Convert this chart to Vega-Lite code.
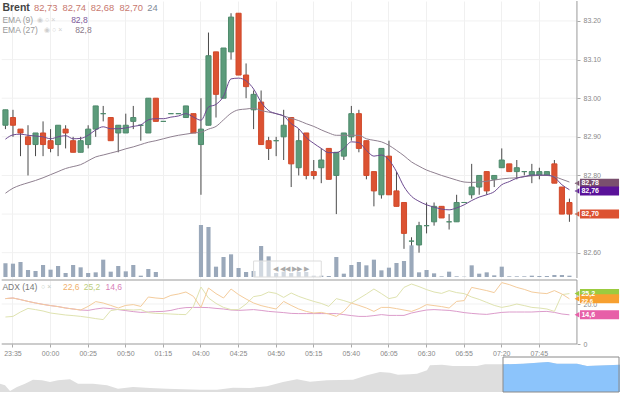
{"$schema":"https://vega.github.io/schema/vega-lite/v6.json","padding":0,"spacing":0,"background":"white","config":{"view":{"stroke":null},"text":{"font":"Liberation Sans"},"concat":{"spacing":0}},
"resolve":{"scale":{"color":"independent"}},
"datasets":{"blank":[{}],"bars":[
{"t":"23:30","o":82.93,"h":82.97,"l":82.92,"c":82.97,"v":246,"e9":82.894,"e27":82.754,"a":22.7,"g":13.5,"p":22.7},
{"t":"23:35","o":82.95,"h":82.97,"l":82.90,"c":82.93,"v":240,"e9":82.905,"e27":82.767,"a":23,"g":13.8,"p":23},
{"t":"23:40","o":82.92,"h":82.92,"l":82.85,"c":82.91,"v":270,"e9":82.907,"e27":82.775,"a":22.2,"g":16,"p":22.2},
{"t":"23:45","o":82.90,"h":82.93,"l":82.80,"c":82.88,"v":126,"e9":82.904,"e27":82.781,"a":21.3,"g":17.8,"p":21.3},
{"t":"23:50","o":82.88,"h":82.91,"l":82.85,"c":82.91,"v":108,"e9":82.902,"e27":82.787,"a":20.5,"g":17.2,"p":20.5},
{"t":"23:55","o":82.91,"h":82.94,"l":82.85,"c":82.88,"v":216,"e9":82.900,"e27":82.794,"a":19.8,"g":16.5,"p":19.8},
{"t":"00:00","o":82.89,"h":82.92,"l":82.86,"c":82.87,"v":132,"e9":82.895,"e27":82.802,"a":19.2,"g":15.5,"p":19.2},
{"t":"00:05","o":82.88,"h":82.93,"l":82.85,"c":82.93,"v":198,"e9":82.900,"e27":82.810,"a":18.7,"g":15,"p":18.7},
{"t":"00:10","o":82.92,"h":82.93,"l":82.87,"c":82.91,"v":72,"e9":82.903,"e27":82.818,"a":18,"g":14.5,"p":18},
{"t":"00:15","o":82.89,"h":82.90,"l":82.86,"c":82.86,"v":216,"e9":82.895,"e27":82.823,"a":17.5,"g":14.2,"p":17.5},
{"t":"00:20","o":82.86,"h":82.90,"l":82.86,"c":82.89,"v":174,"e9":82.896,"e27":82.828,"a":17,"g":13.8,"p":17},
{"t":"00:25","o":82.88,"h":82.93,"l":82.87,"c":82.92,"v":72,"e9":82.904,"e27":82.838,"a":18.8,"g":13.3,"p":16.8},
{"t":"00:30","o":82.92,"h":82.98,"l":82.90,"c":82.98,"v":84,"e9":82.918,"e27":82.848,"a":21.2,"g":12.7,"p":17.5},
{"t":"00:35","o":82.96,"h":82.98,"l":82.94,"c":82.96,"v":312,"e9":82.926,"e27":82.853,"a":20.5,"g":12.2,"p":18},
{"t":"00:40","o":82.95,"h":82.95,"l":82.89,"c":82.89,"v":96,"e9":82.921,"e27":82.858,"a":19.3,"g":16.7,"p":17.7},
{"t":"00:45","o":82.91,"h":82.93,"l":82.86,"c":82.93,"v":198,"e9":82.921,"e27":82.863,"a":18,"g":17.3,"p":17.2},
{"t":"00:50","o":82.91,"h":82.96,"l":82.91,"c":82.93,"v":102,"e9":82.923,"e27":82.869,"a":19.3,"g":17.2,"p":16.7},
{"t":"00:55","o":82.94,"h":82.98,"l":82.92,"c":82.95,"v":216,"e9":82.927,"e27":82.874,"a":19.7,"g":17,"p":16.2},
{"t":"01:00","o":82.93,"h":82.93,"l":82.89,"c":82.93,"v":24,"e9":82.931,"e27":82.880,"a":18.8,"g":17.2,"p":15.8},
{"t":"01:05","o":82.91,"h":83.00,"l":82.91,"c":83.00,"v":144,"e9":82.944,"e27":82.886,"a":23.5,"g":15.7,"p":16},
{"t":"01:10","o":83.00,"h":83.00,"l":82.94,"c":82.94,"v":90,"e9":82.947,"e27":82.890,"a":23,"g":15.3,"p":16.2},
{"t":"01:15","o":82.94,"h":82.94,"l":82.94,"c":82.94,"v":0,"e9":82.947,"e27":82.895,"a":22.7,"g":15.2,"p":16.3},
{"t":"01:20","o":82.96,"h":82.96,"l":82.96,"c":82.96,"v":0,"e9":82.951,"e27":82.900,"a":24.3,"g":15,"p":16.8},
{"t":"01:25","o":82.96,"h":82.96,"l":82.96,"c":82.96,"v":0,"e9":82.954,"e27":82.904,"a":25,"g":14.8,"p":17.7},
{"t":"01:30","o":82.95,"h":82.98,"l":82.95,"c":82.98,"v":0,"e9":82.960,"e27":82.907,"a":26,"g":14.7,"p":18.2},
{"t":"01:35","o":82.96,"h":82.96,"l":82.91,"c":82.91,"v":0,"e9":82.951,"e27":82.910,"a":23.8,"g":18.8,"p":18.3},
{"t":"04:00","o":82.88,"h":83.00,"l":82.75,"c":82.92,"v":936,"e9":82.943,"e27":82.912,"a":18.3,"g":28.5,"p":18.3},
{"t":"04:05","o":82.93,"h":83.17,"l":82.93,"c":83.11,"v":900,"e9":82.977,"e27":82.920,"a":28,"g":23,"p":18.2},
{"t":"04:10","o":83.12,"h":83.12,"l":82.95,"c":83.01,"v":186,"e9":82.984,"e27":82.927,"a":25.2,"g":20.3,"p":17.8},
{"t":"04:15","o":83.00,"h":83.13,"l":83.00,"c":83.13,"v":360,"e9":83.005,"e27":82.944,"a":23,"g":18.3,"p":17.5},
{"t":"04:20","o":83.12,"h":83.22,"l":83.10,"c":83.21,"v":408,"e9":83.050,"e27":82.961,"a":27.5,"g":17.2,"p":17},
{"t":"04:25","o":83.22,"h":83.22,"l":83.06,"c":83.06,"v":162,"e9":83.052,"e27":82.970,"a":24.7,"g":17.2,"p":16.8},
{"t":"04:30","o":83.06,"h":83.09,"l":83.00,"c":83.03,"v":90,"e9":83.045,"e27":82.972,"a":22.5,"g":20,"p":17},
{"t":"04:35","o":82.97,"h":83.02,"l":82.92,"c":83.01,"v":108,"e9":83.024,"e27":82.974,"a":20.5,"g":23.7,"p":17.2},
{"t":"04:40","o":82.99,"h":83.02,"l":82.88,"c":82.88,"v":558,"e9":82.990,"e27":82.968,"a":19.2,"g":24.3,"p":16.8},
{"t":"04:45","o":82.89,"h":82.90,"l":82.84,"c":82.87,"v":372,"e9":82.968,"e27":82.964,"a":18.3,"g":26,"p":16.3},
{"t":"04:50","o":82.89,"h":82.90,"l":82.85,"c":82.89,"v":72,"e9":82.960,"e27":82.960,"a":17.5,"g":25.3,"p":16},
{"t":"04:55","o":82.90,"h":82.97,"l":82.84,"c":82.93,"v":96,"e9":82.954,"e27":82.954,"a":21.3,"g":23.3,"p":15.7},
{"t":"05:00","o":82.95,"h":82.95,"l":82.77,"c":82.83,"v":72,"e9":82.934,"e27":82.948,"a":19.3,"g":25.5,"p":15.3},
{"t":"05:05","o":82.82,"h":82.92,"l":82.80,"c":82.89,"v":90,"e9":82.921,"e27":82.942,"a":17.5,"g":23.8,"p":15.2},
{"t":"05:10","o":82.91,"h":82.91,"l":82.79,"c":82.80,"v":90,"e9":82.898,"e27":82.934,"a":16.3,"g":22.5,"p":15.2},
{"t":"05:15","o":82.81,"h":82.84,"l":82.79,"c":82.80,"v":24,"e9":82.883,"e27":82.927,"a":15.5,"g":21.3,"p":15.2},
{"t":"05:20","o":82.82,"h":82.87,"l":82.78,"c":82.84,"v":24,"e9":82.870,"e27":82.918,"a":15.8,"g":20.3,"p":15.2},
{"t":"05:25","o":82.87,"h":82.87,"l":82.79,"c":82.79,"v":18,"e9":82.859,"e27":82.910,"a":15,"g":18.8,"p":15.2},
{"t":"05:30","o":82.80,"h":82.86,"l":82.70,"c":82.86,"v":360,"e9":82.859,"e27":82.904,"a":13.8,"g":22.7,"p":15.2},
{"t":"05:35","o":82.85,"h":82.91,"l":82.84,"c":82.91,"v":60,"e9":82.870,"e27":82.904,"a":16.3,"g":21.7,"p":14.7},
{"t":"05:40","o":82.90,"h":82.98,"l":82.89,"c":82.96,"v":216,"e9":82.887,"e27":82.904,"a":20.5,"g":20.5,"p":14.2},
{"t":"05:45","o":82.96,"h":82.97,"l":82.86,"c":82.87,"v":270,"e9":82.885,"e27":82.904,"a":19.3,"g":22.7,"p":13.8},
{"t":"05:50","o":82.89,"h":82.89,"l":82.79,"c":82.80,"v":210,"e9":82.865,"e27":82.895,"a":18,"g":25,"p":13.8},
{"t":"05:55","o":82.81,"h":82.81,"l":82.72,"c":82.76,"v":312,"e9":82.850,"e27":82.891,"a":16.3,"g":27.5,"p":14.2},
{"t":"06:00","o":82.75,"h":82.87,"l":82.74,"c":82.87,"v":120,"e9":82.853,"e27":82.887,"a":18.3,"g":25.2,"p":14.7},
{"t":"06:05","o":82.85,"h":82.89,"l":82.75,"c":82.75,"v":168,"e9":82.840,"e27":82.878,"a":18.3,"g":22.7,"p":14.3},
{"t":"06:10","o":82.76,"h":82.81,"l":82.72,"c":82.72,"v":252,"e9":82.810,"e27":82.865,"a":17.7,"g":23.5,"p":14.3},
{"t":"06:15","o":82.73,"h":82.73,"l":82.61,"c":82.65,"v":288,"e9":82.771,"e27":82.851,"a":17,"g":28.3,"p":14.3},
{"t":"06:20","o":82.63,"h":82.64,"l":82.57,"c":82.63,"v":570,"e9":82.746,"e27":82.835,"a":16.3,"g":30,"p":15.5},
{"t":"06:25","o":82.62,"h":82.68,"l":82.60,"c":82.67,"v":84,"e9":82.733,"e27":82.824,"a":17.7,"g":28.7,"p":16.3},
{"t":"06:30","o":82.67,"h":82.73,"l":82.65,"c":82.67,"v":126,"e9":82.724,"e27":82.814,"a":19.7,"g":27.2,"p":17},
{"t":"06:35","o":82.68,"h":82.73,"l":82.67,"c":82.72,"v":66,"e9":82.718,"e27":82.807,"a":19.2,"g":26,"p":17.2},
{"t":"06:40","o":82.72,"h":82.72,"l":82.69,"c":82.69,"v":12,"e9":82.713,"e27":82.800,"a":18.7,"g":25.3,"p":17},
{"t":"06:45","o":82.68,"h":82.70,"l":82.66,"c":82.68,"v":96,"e9":82.711,"e27":82.794,"a":18,"g":26.7,"p":16.8},
{"t":"06:50","o":82.68,"h":82.75,"l":82.68,"c":82.73,"v":12,"e9":82.716,"e27":82.788,"a":21.3,"g":25.7,"p":16.3},
{"t":"06:55","o":82.73,"h":82.73,"l":82.73,"c":82.73,"v":6,"e9":82.724,"e27":82.783,"a":21.7,"g":25.2,"p":15.7},
{"t":"07:00","o":82.75,"h":82.83,"l":82.74,"c":82.77,"v":210,"e9":82.735,"e27":82.782,"a":28.3,"g":23.5,"p":15.3},
{"t":"07:05","o":82.77,"h":82.80,"l":82.75,"c":82.80,"v":60,"e9":82.744,"e27":82.783,"a":27.5,"g":22.3,"p":15},
{"t":"07:10","o":82.81,"h":82.81,"l":82.75,"c":82.76,"v":84,"e9":82.750,"e27":82.785,"a":26.7,"g":20.8,"p":14.8},
{"t":"07:15","o":82.79,"h":82.80,"l":82.77,"c":82.80,"v":30,"e9":82.758,"e27":82.788,"a":25.7,"g":19.3,"p":15.3},
{"t":"07:20","o":82.82,"h":82.87,"l":82.82,"c":82.84,"v":186,"e9":82.776,"e27":82.791,"a":30.7,"g":18.3,"p":15.8},
{"t":"07:25","o":82.83,"h":82.83,"l":82.81,"c":82.81,"v":12,"e9":82.784,"e27":82.793,"a":29.7,"g":19,"p":16},
{"t":"07:30","o":82.81,"h":82.84,"l":82.79,"c":82.82,"v":12,"e9":82.793,"e27":82.794,"a":28.3,"g":20,"p":16},
{"t":"07:35","o":82.81,"h":82.81,"l":82.80,"c":82.81,"v":12,"e9":82.797,"e27":82.797,"a":27.3,"g":19.2,"p":16},
{"t":"07:40","o":82.80,"h":82.83,"l":82.78,"c":82.81,"v":24,"e9":82.801,"e27":82.799,"a":26,"g":18.3,"p":16},
{"t":"07:45","o":82.80,"h":82.82,"l":82.79,"c":82.81,"v":18,"e9":82.801,"e27":82.800,"a":25.5,"g":18,"p":16.2},
{"t":"07:50","o":82.80,"h":82.81,"l":82.80,"c":82.81,"v":18,"e9":82.801,"e27":82.800,"a":25.2,"g":17.5,"p":16.3},
{"t":"07:55","o":82.83,"h":82.84,"l":82.78,"c":82.78,"v":36,"e9":82.795,"e27":82.797,"a":26.7,"g":16.3,"p":15.8},
{"t":"08:00","o":82.77,"h":82.77,"l":82.70,"c":82.70,"v":36,"e9":82.776,"e27":82.790,"a":25,"g":24.7,"p":15},
{"t":"08:05","o":82.73,"h":82.74,"l":82.68,"c":82.70,"v":24,"e9":82.763,"e27":82.783,"a":22.6,"g":25.2,"p":14.6}
]},
"vconcat":[
{"width":620,"height":277,"data":{"name":"blank"},"resolve":{"scale":{"y":"independent"}},"layer":[
{"layer":[
{"data":{"values":[{"y":82.6},{"y":82.7},{"y":82.8},{"y":82.9},{"y":83.0},{"y":83.1},{"y":83.2}]},
"mark":{"type":"rule","color":"#f1f1f1","strokeWidth":1},
"encoding":{
"x":{"datum":"23:30","type":"ordinal","bandPosition":0,"scale":{"domain":["23:30","23:35","23:40","23:45","23:50","23:55","00:00","00:05","00:10","00:15","00:20","00:25","00:30","00:35","00:40","00:45","00:50","00:55","01:00","01:05","01:10","01:15","01:20","01:25","01:30","01:35","04:00","04:05","04:10","04:15","04:20","04:25","04:30","04:35","04:40","04:45","04:50","04:55","05:00","05:05","05:10","05:15","05:20","05:25","05:30","05:35","05:40","05:45","05:50","05:55","06:00","06:05","06:10","06:15","06:20","06:25","06:30","06:35","06:40","06:45","06:50","06:55","07:00","07:05","07:10","07:15","07:20","07:25","07:30","07:35","07:40","07:45","07:50","07:55","08:00","08:05","08:10","08:15","08:20","08:25","08:30","08:35"],"paddingInner":0,"paddingOuter":0.225},
"axis":{"title":null,"values":["23:35","00:00","00:25","00:50","01:15","04:00","04:25","04:50","05:15","05:40","06:05","06:30","06:55","07:20","07:45"],"grid":true,"gridColor":"#f0f0f0","labels":false,"ticks":false,"domain":false}},
"x2":{"datum":"08:10"},
"y":{"field":"y","type":"quantitative","scale":{"domain":[82.5345,83.2517],"nice":false,"zero":false},
"axis":{"title":null,"orient":"right","offset":-43,"values":[82.6,82.8,82.9,83.0,83.1,83.2],"format":".2f","grid":false,"domain":false,"tickSize":3,"tickColor":"#aaa","labelPadding":3,"labelColor":"#888","labelFont":"Liberation Sans","labelFontSize":7}}}},
{"data":{"name":"bars"},"mark":{"type":"rule","color":"#4a4a4a","strokeWidth":1},
"encoding":{"x":{"field":"t","type":"ordinal"},"y":{"field":"l","type":"quantitative"},"y2":{"field":"h"}}},
{"data":{"name":"bars"},"mark":{"type":"bar","width":{"band":0.68},"strokeWidth":1},
"encoding":{"x":{"field":"t","type":"ordinal"},"y":{"field":"o","type":"quantitative"},"y2":{"field":"c"},
"color":{"condition":{"test":"datum.c>=datum.o","value":"#5c9c7b"},"value":"#dc5232"},
"stroke":{"condition":{"test":"datum.c>=datum.o","value":"#4f8a6c"},"value":"#d04a2b"}}},
{"data":{"name":"bars"},"mark":{"type":"line","color":"#8f8090","strokeWidth":1,"interpolate":"monotone"},
"encoding":{"x":{"field":"t","type":"ordinal"},"y":{"field":"e27","type":"quantitative"}}},
{"data":{"name":"bars"},"mark":{"type":"line","color":"#6d4a90","strokeWidth":1,"interpolate":"monotone"},
"encoding":{"x":{"field":"t","type":"ordinal"},"y":{"field":"e9","type":"quantitative"}}},
{"data":{"values":[{"s":"EMA 27","y":82.78},{"s":"EMA 9","y":82.76},{"s":"Brent","y":82.70}]},
"mark":{"type":"rule","strokeWidth":9,"strokeCap":"square"},
"encoding":{"x":{"datum":"08:15","type":"ordinal"},"x2":{"datum":"08:35"},"y":{"field":"y","type":"quantitative"},
"color":{"field":"s","type":"nominal","legend":null,"scale":{"domain":["EMA 27","EMA 9","Brent"],"range":["#7a4f6e","#5a1299","#dc5232"]}}}},
{"data":{"values":[{"s":"EMA 27","y":82.78},{"s":"EMA 9","y":82.76},{"s":"Brent","y":82.70}]},
"mark":{"type":"point","shape":"triangle-left","filled":true,"size":30,"opacity":1},
"encoding":{"x":{"datum":"08:10","type":"ordinal"},"y":{"field":"y","type":"quantitative"},"color":{"field":"s","type":"nominal","legend":null}}},
{"data":{"values":[{"y":82.78,"label":"82,78"},{"y":82.76,"label":"82,76"},{"y":82.70,"label":"82,70"}]},
"mark":{"type":"text","color":"white","fontSize":7,"fontWeight":"bold","align":"left","dx":-3},
"encoding":{"x":{"datum":"08:15","type":"ordinal"},"y":{"field":"y","type":"quantitative"},"text":{"field":"label"}}},
{"mark":{"type":"text","text":"Brent","align":"left","dx":-3,"fontSize":10.5,"fontWeight":"bold","color":"#444"},"encoding":{"x":{"datum":"23:30","type":"ordinal"},"y":{"datum":83.2323}}},
{"mark":{"type":"text","text":"82,73","align":"left","dx":-1.6,"fontSize":9.4,"color":"#c8786e"},"encoding":{"x":{"datum":"23:50","type":"ordinal"},"y":{"datum":83.2323}}},
{"mark":{"type":"text","text":"82,74","align":"left","dx":-3,"fontSize":9.4,"color":"#c8786e"},"encoding":{"x":{"datum":"00:10","type":"ordinal"},"y":{"datum":83.2323}}},
{"mark":{"type":"text","text":"82,68","align":"left","dx":2.5,"fontSize":9.4,"color":"#c8786e"},"encoding":{"x":{"datum":"00:25","type":"ordinal"},"y":{"datum":83.2323}}},
{"mark":{"type":"text","text":"82,70","align":"left","dx":1.3,"fontSize":9.4,"color":"#c8786e"},"encoding":{"x":{"datum":"00:45","type":"ordinal"},"y":{"datum":83.2323}}},
{"mark":{"type":"text","text":"24","align":"left","dx":-1,"fontSize":9.4,"color":"#7f8c99"},"encoding":{"x":{"datum":"01:05","type":"ordinal"},"y":{"datum":83.2323}}},
{"mark":{"type":"text","text":"EMA (9)","align":"left","dx":-3,"fontSize":8.5,"color":"#999"},"encoding":{"x":{"datum":"23:30","type":"ordinal"},"y":{"datum":83.2038}}},
{"mark":{"type":"text","text":"◉ ○ ×","align":"left","dx":1.5,"fontSize":7,"color":"#cfcfcf"},"encoding":{"x":{"datum":"23:50","type":"ordinal"},"y":{"datum":83.2038}}},
{"mark":{"type":"text","text":"82,8","align":"left","dx":-2,"fontSize":8.5,"color":"#7d5a9b"},"encoding":{"x":{"datum":"00:15","type":"ordinal"},"y":{"datum":83.2038}}},
{"mark":{"type":"text","text":"EMA (27)","align":"left","dx":-3,"fontSize":8.5,"color":"#999"},"encoding":{"x":{"datum":"23:30","type":"ordinal"},"y":{"datum":83.1767}}},
{"mark":{"type":"text","text":"◉ ○ ×","align":"left","dx":1,"fontSize":7,"color":"#cfcfcf"},"encoding":{"x":{"datum":"23:55","type":"ordinal"},"y":{"datum":83.1767}}},
{"mark":{"type":"text","text":"82,8","align":"left","dx":2,"fontSize":8.5,"color":"#8a7a8a"},"encoding":{"x":{"datum":"00:15","type":"ordinal"},"y":{"datum":83.1767}}},
{"mark":{"type":"rule","color":"#999","strokeWidth":1},"encoding":{"x":{"datum":"08:10","type":"ordinal"}}}
]},
{"layer":[
{"data":{"name":"bars"},"mark":{"type":"bar","width":{"band":0.55},"color":"#9aa8ba"},
"encoding":{"x":{"field":"t","type":"ordinal"},"y":{"field":"v","type":"quantitative","axis":null,"scale":{"domain":[-18,4968],"nice":false,"zero":false}}}},
{"mark":{"type":"rect","fill":"white","fillOpacity":0.55,"stroke":"#ddd"},
"encoding":{"x":{"datum":"04:35","type":"ordinal"},"x2":{"datum":"05:20"},"y":{"datum":0,"axis":null},"y2":{"datum":288}}},
{"mark":{"type":"text","text":"◀    ◀◀    ▶▶    ▶","fontSize":7,"color":"#aaa"},
"encoding":{"x":{"datum":"05:00","type":"ordinal"},"y":{"datum":144,"axis":null}}}
]}
]},
{"width":620,"height":64,"data":{"name":"blank"},"layer":[
{"data":{"values":[{"y":20}]},"mark":{"type":"rule","color":"#f1f1f1"},
"encoding":{
"x":{"datum":"23:30","type":"ordinal","bandPosition":0,"scale":{"domain":["23:30","23:35","23:40","23:45","23:50","23:55","00:00","00:05","00:10","00:15","00:20","00:25","00:30","00:35","00:40","00:45","00:50","00:55","01:00","01:05","01:10","01:15","01:20","01:25","01:30","01:35","04:00","04:05","04:10","04:15","04:20","04:25","04:30","04:35","04:40","04:45","04:50","04:55","05:00","05:05","05:10","05:15","05:20","05:25","05:30","05:35","05:40","05:45","05:50","05:55","06:00","06:05","06:10","06:15","06:20","06:25","06:30","06:35","06:40","06:45","06:50","06:55","07:00","07:05","07:10","07:15","07:20","07:25","07:30","07:35","07:40","07:45","07:50","07:55","08:00","08:05","08:10","08:15","08:20","08:25","08:30","08:35"],"paddingInner":0,"paddingOuter":0.225},
"axis":{"title":null,"values":["23:35","00:00","00:25","00:50","01:15","04:00","04:25","04:50","05:15","05:40","06:05","06:30","06:55","07:20","07:45"],"grid":true,"gridColor":"#f0f0f0","domain":false,"tickSize":3,"tickColor":"#aaa","labelAngle":0,"labelPadding":2,"labelColor":"#888","labelFont":"Liberation Sans","labelFontSize":7}},
"x2":{"datum":"08:10"},
"y":{"field":"y","type":"quantitative","scale":{"domain":[0,32],"nice":false},
"axis":{"title":null,"orient":"right","offset":-43,"values":[0,20],"labelExpr":"datum.value==0?'0':'20.0'","grid":false,"domain":false,"tickSize":3,"tickColor":"#aaa","labelPadding":3,"labelColor":"#888","labelFont":"Liberation Sans","labelFontSize":7}}}},
{"data":{"name":"bars"},"mark":{"type":"line","color":"#dc9ccb","strokeWidth":1},
"encoding":{"x":{"field":"t","type":"ordinal"},"y":{"field":"p","type":"quantitative"}}},
{"data":{"name":"bars"},"mark":{"type":"line","color":"#dfe3b0","strokeWidth":1},
"encoding":{"x":{"field":"t","type":"ordinal"},"y":{"field":"g","type":"quantitative"}}},
{"data":{"name":"bars"},"mark":{"type":"line","color":"#f4cc9c","strokeWidth":1},
"encoding":{"x":{"field":"t","type":"ordinal"},"y":{"field":"a","type":"quantitative"}}},
{"mark":{"type":"rule","color":"#999","strokeWidth":1},"encoding":{"x":{"datum":"23:30","type":"ordinal","bandPosition":0},"x2":{"datum":"08:10"},"y":{"datum":0}}},
{"mark":{"type":"rule","color":"#999","strokeWidth":1},"encoding":{"x":{"datum":"23:30","type":"ordinal","bandPosition":0},"x2":{"datum":"08:10"},"y":{"datum":32}}},
{"mark":{"type":"rule","color":"#999","strokeWidth":1},"encoding":{"x":{"datum":"08:10","type":"ordinal"}}},
{"data":{"values":[{"s":"+DI","y":25.2},{"s":"ADX","y":22.6},{"s":"-DI","y":14.6}]},
"mark":{"type":"rule","strokeWidth":9,"strokeCap":"square"},
"encoding":{"x":{"datum":"08:15","type":"ordinal"},"x2":{"datum":"08:35"},"y":{"field":"y","type":"quantitative"},
"color":{"field":"s","type":"nominal","legend":null,"scale":{"domain":["+DI","ADX","-DI"],"range":["#9bcb3f","#f7a030","#e75fa8"]}}}},
{"data":{"values":[{"s":"+DI","y":25.2},{"s":"ADX","y":22.6},{"s":"-DI","y":14.6}]},
"mark":{"type":"point","shape":"triangle-left","filled":true,"size":30,"opacity":1},
"encoding":{"x":{"datum":"08:10","type":"ordinal"},"y":{"field":"y","type":"quantitative"},"color":{"field":"s","type":"nominal","legend":null}}},
{"data":{"values":[{"y":25.2,"label":"25,2"},{"y":14.6,"label":"14,6"}]},
"mark":{"type":"text","color":"white","fontSize":7,"fontWeight":"bold","align":"left","dx":-3},
"encoding":{"x":{"datum":"08:15","type":"ordinal"},"y":{"field":"y","type":"quantitative"},"text":{"field":"label"}}},
{"data":{"values":[{"y":22.6,"label":"22,6"}]},
"mark":{"type":"text","color":"white","fontSize":6,"fontWeight":"bold","align":"left","dx":-3,"dy":2},
"encoding":{"x":{"datum":"08:15","type":"ordinal"},"y":{"field":"y","type":"quantitative"},"text":{"field":"label"}}},
{"mark":{"type":"text","text":"ADX (14)","align":"left","dx":-3,"fontSize":8.5,"color":"#777"},"encoding":{"x":{"datum":"23:30","type":"ordinal"},"y":{"datum":28.5}}},
{"mark":{"type":"text","text":"○ ×","align":"left","dx":-2,"fontSize":7,"color":"#c4ccc4"},"encoding":{"x":{"datum":"23:55","type":"ordinal"},"y":{"datum":28.5}}},
{"mark":{"type":"text","text":"22,6","align":"left","dx":-2.7,"fontSize":8.5,"color":"#f0b16d"},"encoding":{"x":{"datum":"00:10","type":"ordinal"},"y":{"datum":28.5}}},
{"mark":{"type":"text","text":"25,2","align":"left","dx":-4.5,"fontSize":8.5,"color":"#bccd7c"},"encoding":{"x":{"datum":"00:25","type":"ordinal"},"y":{"datum":28.5}}},
{"mark":{"type":"text","text":"14,6","align":"left","dx":2.3,"fontSize":8.5,"color":"#d880b8"},"encoding":{"x":{"datum":"00:35","type":"ordinal"},"y":{"datum":28.5}}}
]},
{"width":620,"height":35,"data":{"values":[{"n":0,"m":25},{"n":5,"m":20},{"n":10,"m":3},{"n":17,"m":15},{"n":25,"m":25},{"n":33,"m":37},{"n":42,"m":35},{"n":50,"m":30},{"n":58,"m":35},{"n":70,"m":38},{"n":78,"m":25},{"n":93,"m":25},{"n":107,"m":20},{"n":118,"m":10},{"n":133,"m":15},{"n":150,"m":12},{"n":167,"m":10},{"n":183,"m":8},{"n":200,"m":7},{"n":217,"m":7},{"n":233,"m":13},{"n":250,"m":12},{"n":267,"m":17},{"n":283,"m":30},{"n":297,"m":38},{"n":310,"m":31},{"n":327,"m":35},{"n":353,"m":37},{"n":367,"m":50},{"n":380,"m":60},{"n":390,"m":58},{"n":398,"m":52},{"n":410,"m":53},{"n":417,"m":55},{"n":427,"m":65},{"n":430,"m":80},{"n":442,"m":82},{"n":453,"m":78},{"n":477,"m":78},{"n":485,"m":83},{"n":503,"m":83},{"n":523,"m":85},{"n":548,"m":90},{"n":557,"m":85},{"n":577,"m":85},{"n":587,"m":78},{"n":620,"m":82}]},
"layer":[
{"mark":{"type":"area","color":"#dedede"},"encoding":{"x":{"field":"n","type":"quantitative","axis":null,"scale":{"domain":[0,620],"nice":false}},"y":{"field":"m","type":"quantitative","axis":null,"scale":{"domain":[0,105],"nice":false}}}},
{"transform":[{"filter":"datum.n>=503"}],"mark":{"type":"area","color":"#8cc4fb"},"encoding":{"x":{"field":"n","type":"quantitative","axis":null},"y":{"field":"m","type":"quantitative","axis":null}}},
{"data":{"values":[{"from":503,"to":619}]},"mark":{"type":"rect","fill":null,"stroke":"#8a8a8a","strokeWidth":1},"encoding":{"x":{"field":"from","type":"quantitative","axis":null},"x2":{"field":"to"}}}
]}
]}
